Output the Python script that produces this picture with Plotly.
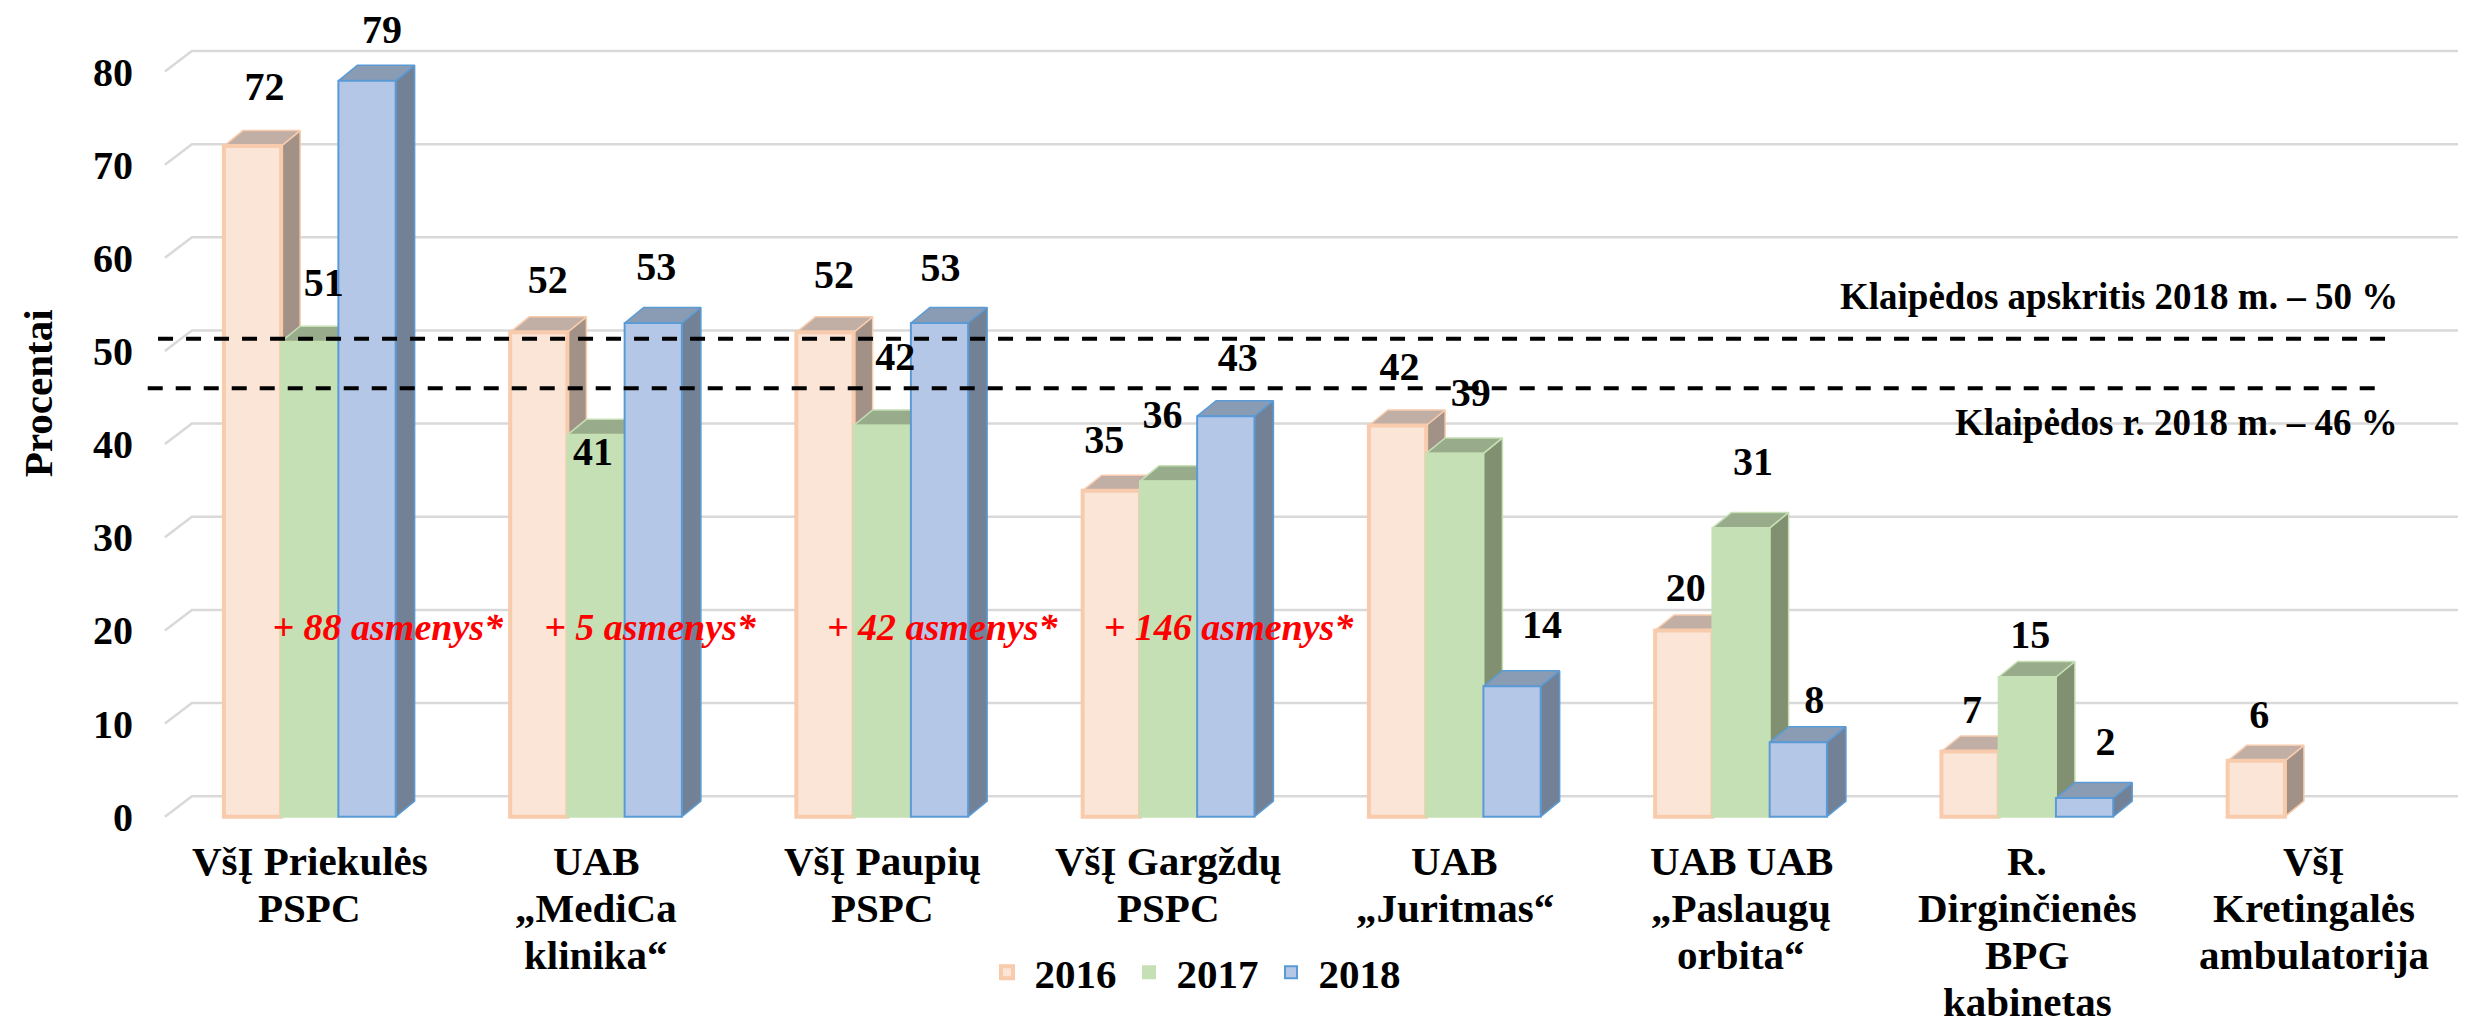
import plotly.graph_objects as go

# ---------------- data ----------------
categories = [
    "VšĮ Priekulės<br>PSPC",
    "UAB<br>„MediCa<br>klinika“",
    "VšĮ Paupių<br>PSPC",
    "VšĮ Gargždų<br>PSPC",
    "UAB<br>„Juritmas“",
    "UAB UAB<br>„Paslaugų<br>orbita“",
    "R.<br>Dirginčienės<br>BPG<br>kabinetas",
    "VšĮ<br>Kretingalės<br>ambulatorija",
]
years = ["2016", "2017", "2018"]
values_2016 = [72, 52, 52, 35, 42, 20, 7, 6]
values_2017 = [51, 41, 42, 36, 39, 31, 15, None]
values_2018 = [79, 53, 53, 43, 14, 8, 2, None]
y_ticks = [0, 10, 20, 30, 40, 50, 60, 70, 80]
y_title = "Procentai"

ref_levels = [51.3, 46.0]
ref_labels = ["Klaipėdos apskritis 2018 m. – 50 %", "Klaipėdos r. 2018 m. – 46 %"]

notes = ["+ 88 asmenys*", "+ 5 asmenys*", "+ 42 asmenys*", "+ 146 asmenys*"]
note_level = 20

# ---------------- layout / style helpers ----------------
FONT = "Liberation Serif"
PX_X = 286.3      # pixels per category unit
PX_Y = 9.314      # pixels per percent
BAR_W = 0.2
OFFSETS = [-0.3, -0.1, 0.1]
DX = 19 / PX_X    # bar depth (horizontal)
DY = 15.5 / PX_Y  # bar depth (vertical)
WALL_DX = 27 / PX_X
WALL_DY = 2.2
X_LEFT = -0.506
X_RIGHT = 7.54
CAT_FIRST_SHIFT = -35   # px below plot bottom for first label line
CAT_LINE_STEP = 47      # px between label lines

fills = ["#fbe5d6", "#c5e0b4", "#b4c7e7"]
lines = ["#f8cbad", "#c5e0b4", "#5b9bd5"]
line_w = [4, 2, 2]
side_cols = ["#a29187", "#809070", "#738196"]
top_cols = ["#c1aea4", "#98ab8a", "#8a9bb4"]

# per-label placement tweaks (pixels right, percent up)
label_dx_px = [
    [12, 9, 9, -7, 2, 2, 2, 3],
    [14, -3, 13, -6, 16, 12, 3, 0],
    [15, 3, 1, 12, 30, 16, 21, 0],
]
label_dy = [
    [6.0, 5.3, 5.8, 5.1, 6.0, 4.2, 4.1, 4.6],
    [6.0, -2.2, 7.0, 6.8, 6.2, 6.8, 4.2, 0],
    [5.1, 5.7, 5.6, 5.9, 6.3, 4.2, 5.7, 0],
]
note_dx_px = [78, 54, 60, 60]

series = [values_2016, values_2017, values_2018]
xs = list(range(len(categories)))

fig = go.Figure()

# back-wall gridlines with floor diagonals
gx, gy = [], []
for v in y_ticks:
    gx += [X_LEFT, X_LEFT + WALL_DX, X_RIGHT, None]
    gy += [v, v + WALL_DY, v + WALL_DY, None]
fig.add_trace(go.Scatter(x=gx, y=gy, mode="lines", line=dict(color="#d9d9d9", width=2.5),
                         showlegend=False, hoverinfo="skip", zorder=0))

for k, vals in enumerate(series):
    off = OFFSETS[k]
    sx, sy, tx, ty = [], [], [], []
    for i, v in enumerate(vals):
        if v is None:
            continue
        xl = i + off
        xr = xl + BAR_W
        sx += [xr, xr, xr + DX, xr + DX, xr, None]
        sy += [0, v, v + DY, DY, 0, None]
        tx += [xl, xl + DX, xr + DX, xr, xl, None]
        ty += [v, v + DY, v + DY, v, v, None]
    fig.add_trace(go.Scatter(x=sx, y=sy, mode="lines", fill="toself", fillcolor=side_cols[k],
                             line=dict(color=lines[k], width=1.5), showlegend=False,
                             hoverinfo="skip", zorder=1 + 2 * k))
    fig.add_trace(go.Scatter(x=tx, y=ty, mode="lines", fill="toself", fillcolor=top_cols[k],
                             line=dict(color=lines[k], width=1.5), showlegend=False,
                             hoverinfo="skip", zorder=1 + 2 * k))
    fig.add_trace(go.Bar(x=xs, y=vals, width=BAR_W, offset=off, name=years[k],
                         marker=dict(color=fills[k], line=dict(color=lines[k], width=line_w[k])),
                         zorder=2 + 2 * k))

# reference dashed lines
ref_x = [[-0.53, 7.265], [-0.566, 7.227]]
for lvl, (x0, x1) in zip(ref_levels, ref_x):
    fig.add_trace(go.Scatter(x=[x0, x1], y=[lvl, lvl], mode="lines",
                             line=dict(color="black", width=4, dash="15px,13px"),
                             showlegend=False, hoverinfo="skip", zorder=20))

# data labels
for k, vals in enumerate(series):
    lx, ly, lt = [], [], []
    for i, v in enumerate(vals):
        if v is None:
            continue
        lx.append(i + OFFSETS[k] + BAR_W / 2 + label_dx_px[k][i] / PX_X)
        ly.append(v + label_dy[k][i])
        lt.append(str(v))
    fig.add_trace(go.Scatter(x=lx, y=ly, text=lt, mode="text", textposition="middle center",
                             textfont=dict(family=FONT, size=40, color="black", weight="bold"),
                             showlegend=False, hoverinfo="skip", zorder=22))

# red notes
fig.add_trace(go.Scatter(
    x=[i + note_dx_px[i] / PX_X for i in range(len(notes))],
    y=[note_level] * len(notes), text=notes, mode="text", textposition="middle center",
    textfont=dict(family=FONT, size=38, color="#ff0000", weight="bold", style="italic"),
    showlegend=False, hoverinfo="skip", zorder=22))

# reference labels
ref_label_y = [55.9, 42.3]
for txt, yy in zip(ref_labels, ref_label_y):
    fig.add_annotation(x=7.303, y=yy, text=txt, showarrow=False, xanchor="right", yanchor="middle",
                       font=dict(family=FONT, size=37, color="black", weight="bold"))

# category labels (tight line spacing like the original)
for i, cat in enumerate(categories):
    for j, part in enumerate(cat.split("<br>")):
        fig.add_annotation(x=i, xref="x", y=0, yref="paper", text=part, showarrow=False,
                           xanchor="center", yanchor="middle",
                           yshift=CAT_FIRST_SHIFT - j * CAT_LINE_STEP,
                           font=dict(family=FONT, size=41, color="black", weight="bold"))

# y-axis title
fig.add_annotation(xref="paper", yref="paper", x=-0.0429, y=0.531, text=y_title, textangle=-90,
                   showarrow=False, xanchor="center", yanchor="middle",
                   font=dict(family=FONT, size=41, color="black", weight="bold"))

fig.update_layout(
    width=2466, height=1022,
    margin=dict(l=130, r=3, t=3, b=204),
    plot_bgcolor="white", paper_bgcolor="white",
    barmode="overlay",
    font=dict(family=FONT, color="black", weight="bold"),
    xaxis=dict(range=[-0.6, 7.55], tickmode="array", tickvals=xs, showticklabels=False,
               showgrid=False, zeroline=False, showline=False, ticks="", automargin=False),
    yaxis=dict(range=[-1, 86.5], tickmode="array", tickvals=y_ticks,
               showgrid=False, zeroline=False, showline=False, ticks="", automargin=False,
               ticklabelstandoff=4,
               tickfont=dict(family=FONT, size=40, color="black", weight="bold")),
    legend=dict(orientation="h", x=0.452, xanchor="center", y=-0.18, yanchor="middle",
                itemwidth=45,
                font=dict(family=FONT, size=41, color="black", weight="bold"),
                bgcolor="rgba(0,0,0,0)", traceorder="normal"),
    showlegend=True,
)

fig.write_html("out.html")
